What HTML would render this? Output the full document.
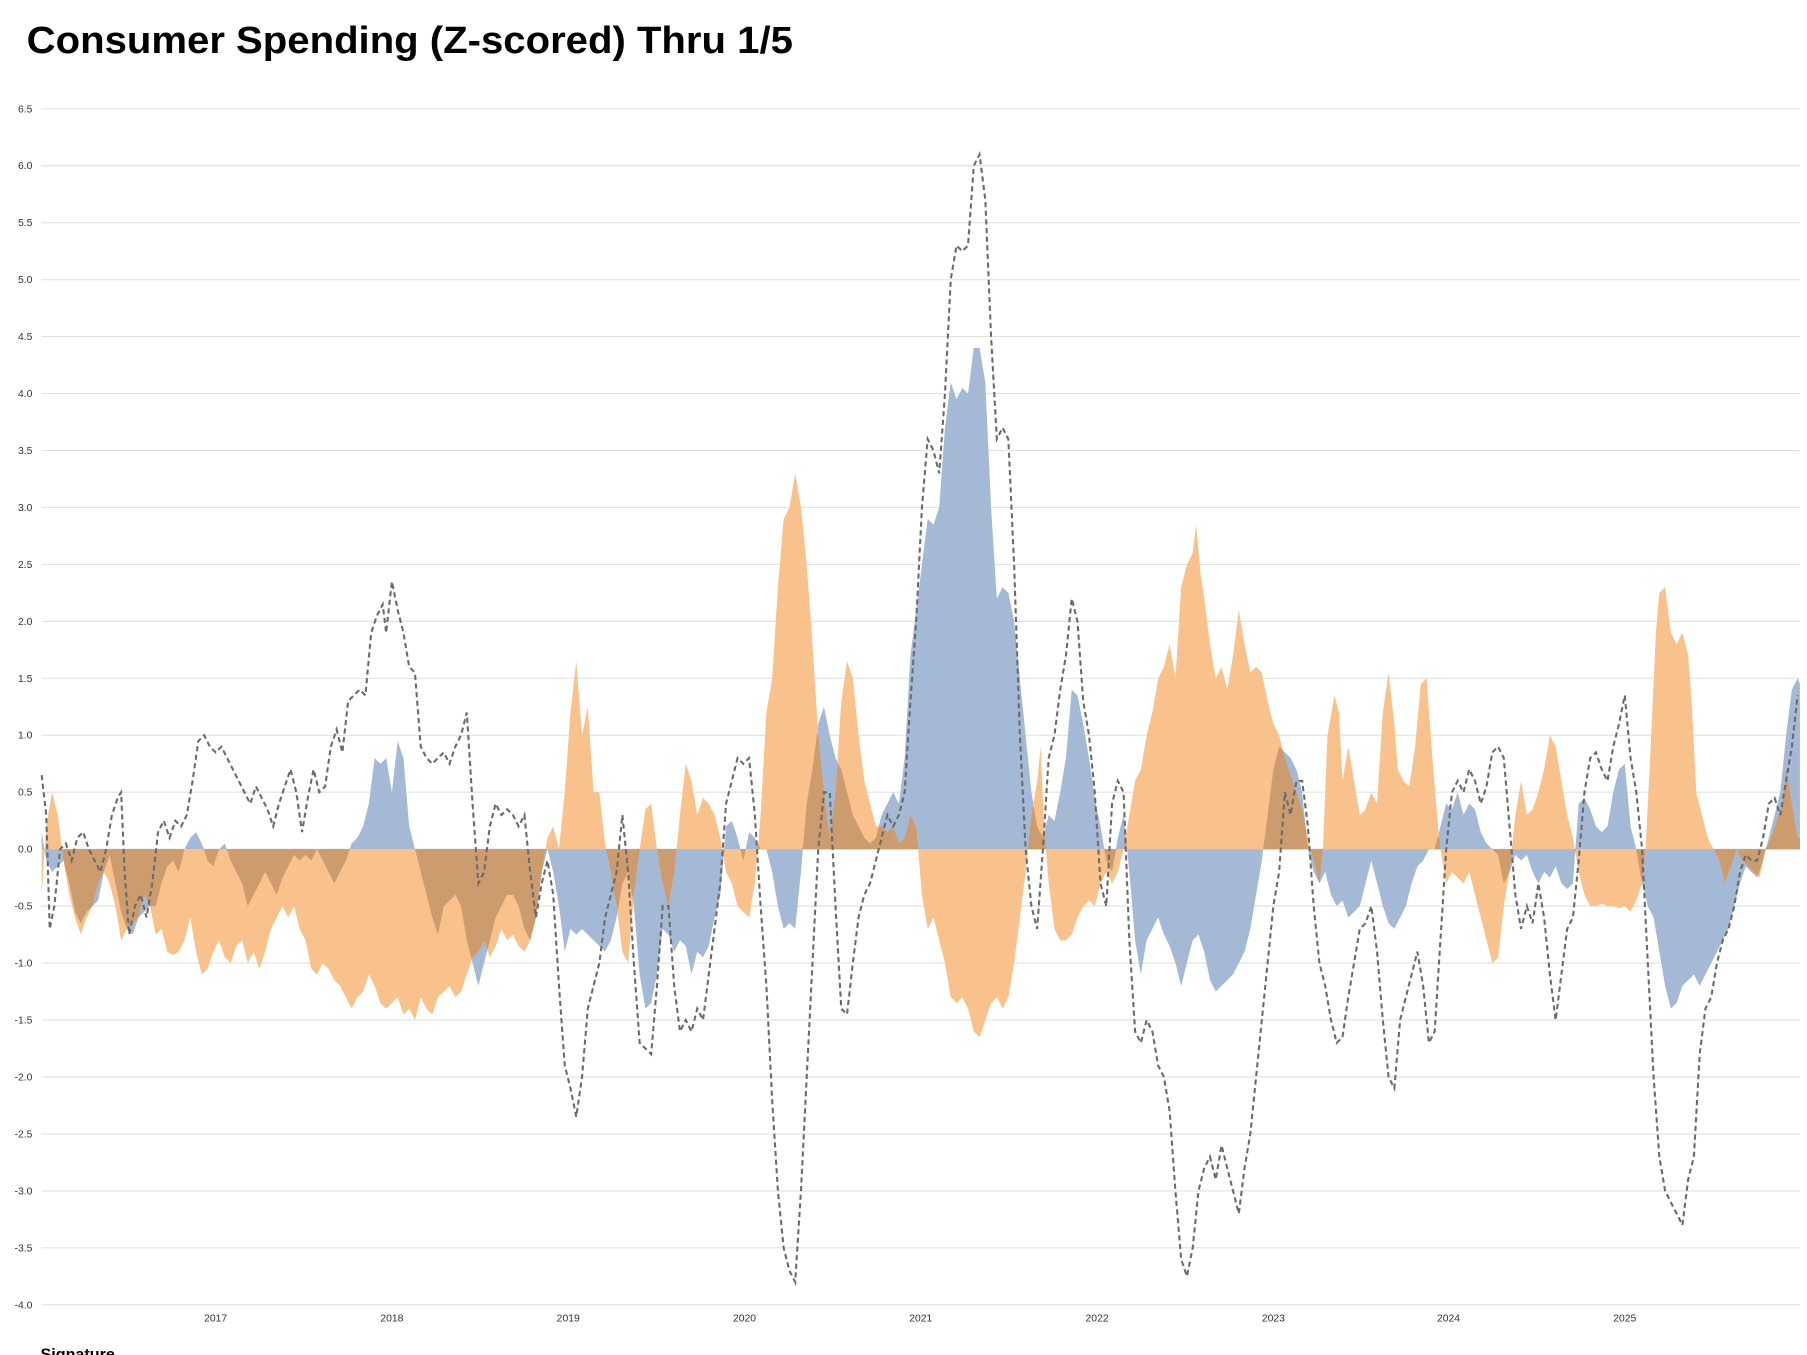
<!DOCTYPE html>
<html><head><meta charset="utf-8"><style>
html,body{margin:0;padding:0;background:#fff;}
svg{display:block;}
</style></head><body>
<svg id="c" width="1807" height="1355" viewBox="0 0 1568 1176" xmlns="http://www.w3.org/2000/svg">
<text x="23" y="46" font-family="Liberation Sans, sans-serif" font-weight="bold" font-size="33" textLength="665" lengthAdjust="spacingAndGlyphs" fill="#000">Consumer Spending (Z-scored) Thru 1/5</text>
<g id="grid"></g>
<g id="areas"></g>
<g id="line"></g>
<g id="xl" font-family="Liberation Sans, sans-serif" font-size="9" fill="#333" text-anchor="middle"></g>
<text x="35" y="1180" font-family="Liberation Sans, sans-serif" font-weight="bold" font-size="14" fill="#000">Signature</text>
</svg>
<script>
var NS="http://www.w3.org/2000/svg";
var Y0=737, U=(1132-94)/10.5, X0=36, X1=1562;
function Y(v){return Y0-v*U;}
function el(t,a,p){var e=document.createElementNS(NS,t);for(var k in a)e.setAttribute(k,a[k]);p.appendChild(e);return e;}
var g=document.getElementById('grid');
for(var i=0;i<=21;i++){var v=6.5-i*0.5;var y=Y(v);
el('line',{x1:36,x2:1562,y1:y,y2:y,stroke:'#e2e2e2','stroke-width':1},g);
var t=el('text',{x:28,y:y+3,'font-family':'Liberation Sans, sans-serif','font-size':'9','fill':'#333','text-anchor':'end'},g);t.textContent=v.toFixed(1);}
var xl=document.getElementById('xl');
var yrs=[[187,'2017'],[340,'2018'],[493,'2019'],[646,'2020'],[799,'2021'],[952,'2022'],[1105,'2023'],[1257,'2024'],[1410,'2025']];
yrs.forEach(function(a){var t=el('text',{x:a[0],y:1147},xl);t.textContent=a[1];});
function P(s){var a=s.split(',').map(function(p){p=p.trim().split(':');return [+p[0],+p[1]];});return a;}
var O=P("36:-0.4,40:0.2,45:0.5,50:0.3,55:-0.1,60:-0.4,65:-0.6,70:-0.75,75:-0.6,80:-0.5,85:-0.3,90:-0.2,95:-0.3,100:-0.5,105:-0.8,110:-0.7,115:-0.65,120:-0.6,125:-0.4,130:-0.5,135:-0.75,140:-0.7,145:-0.9,150:-0.93,155:-0.9,160:-0.8,165:-0.6,170:-0.9,175:-1.1,180:-1.05,185:-0.9,190:-0.8,195:-0.95,200:-1.0,205:-0.85,210:-0.8,215:-1.0,220:-0.9,225:-1.05,230:-0.9,235:-0.7,240:-0.6,245:-0.5,250:-0.6,255:-0.5,260:-0.7,265:-0.8,270:-1.05,275:-1.1,280:-1.0,285:-1.05,290:-1.15,295:-1.2,300:-1.3,305:-1.4,310:-1.3,315:-1.25,320:-1.1,325:-1.2,330:-1.35,335:-1.4,340:-1.35,345:-1.3,350:-1.45,355:-1.4,360:-1.5,365:-1.3,370:-1.4,375:-1.45,380:-1.3,385:-1.25,390:-1.2,395:-1.3,400:-1.25,405:-1.1,410:-0.95,415:-0.9,420:-0.8,425:-0.95,430:-0.85,435:-0.7,440:-0.8,445:-0.75,450:-0.85,455:-0.9,460:-0.8,465:-0.6,470:-0.2,475:0.1,480:0.2,485:0.0,490:0.5,495:1.2,500:1.65,505:1.0,510:1.25,515:0.5,520:0.5,525:0.05,530:-0.2,535:-0.5,540:-0.9,545:-1.0,550:-0.4,555:0.0,560:0.35,565:0.4,570:0.0,575:-0.3,580:-0.5,585:-0.2,590:0.3,595:0.75,600:0.6,605:0.3,610:0.45,615:0.4,620:0.3,625:0.1,630:-0.2,635:-0.3,640:-0.5,645:-0.55,650:-0.6,655:-0.3,660:0.3,665:1.2,670:1.5,675:2.3,680:2.9,685:3.0,690:3.3,695:3.0,700:2.5,705:1.8,710:1.0,715:0.5,720:0.1,725:0.5,730:1.3,735:1.65,740:1.5,745:1.0,750:0.6,755:0.4,760:0.2,765:0.2,770:0.15,775:0.2,780:0.05,785:0.1,790:0.3,795:0.2,800:-0.4,805:-0.7,810:-0.6,815:-0.8,820:-1.0,825:-1.3,830:-1.35,835:-1.3,840:-1.4,845:-1.6,850:-1.65,855:-1.5,860:-1.35,865:-1.3,870:-1.4,875:-1.3,880:-1.0,885:-0.6,890:-0.2,895:0.3,900:0.6,903:0.9,906:0.2,910:-0.3,915:-0.7,920:-0.8,925:-0.8,930:-0.75,935:-0.6,940:-0.5,945:-0.45,950:-0.5,955:-0.3,960:-0.2,965:-0.3,970:-0.2,975:0.0,980:0.3,985:0.6,990:0.7,995:1.0,1000:1.2,1005:1.5,1010:1.6,1015:1.8,1020:1.5,1025:2.3,1030:2.5,1035:2.6,1038:2.85,1042:2.4,1045:2.2,1050:1.8,1055:1.5,1060:1.6,1065:1.4,1070:1.7,1075:2.1,1080:1.8,1085:1.55,1090:1.6,1095:1.55,1100:1.3,1105:1.1,1110:1.0,1115:0.8,1120:0.65,1125:0.5,1130:0.35,1135:0.1,1140:-0.1,1145:-0.3,1148:0.0,1152:1.0,1158:1.35,1162:1.2,1165:0.6,1170:0.9,1175:0.6,1180:0.3,1185:0.35,1190:0.5,1195:0.4,1200:1.2,1205:1.55,1210:1.1,1213:0.7,1218:0.6,1223:0.55,1228:0.9,1233:1.45,1238:1.5,1243:0.8,1248:0.2,1250:0.0,1255:-0.3,1260:-0.2,1265:-0.25,1270:-0.3,1275:-0.2,1280:-0.4,1285:-0.6,1290:-0.8,1295:-1.0,1300:-0.95,1305:-0.5,1310:-0.2,1315:0.3,1320:0.6,1325:0.3,1330:0.35,1335:0.5,1340:0.7,1345:1.0,1350:0.9,1355:0.6,1360:0.3,1365:0.1,1370:-0.2,1375:-0.4,1380:-0.5,1385:-0.5,1390:-0.48,1395:-0.5,1400:-0.5,1405:-0.52,1410:-0.5,1415:-0.55,1420:-0.45,1425:-0.3,1428:0.0,1432:0.8,1437:1.9,1440:2.25,1445:2.3,1450:1.9,1455:1.8,1460:1.9,1465:1.7,1468:1.3,1472:0.5,1477:0.3,1482:0.1,1487:0.0,1492:-0.1,1497:-0.3,1502:-0.15,1507:0.0,1512:-0.1,1517:-0.15,1522:-0.2,1527:-0.25,1532:0.0,1537:0.1,1542:0.25,1547:0.4,1550:0.7,1555:0.4,1560:0.1,1562:0.1");
var B=P("36:0.15,40:-0.1,45:-0.2,50:-0.15,55:-0.1,60:-0.3,65:-0.55,70:-0.65,75:-0.55,80:-0.5,85:-0.45,90:-0.2,95:-0.05,100:-0.3,105:-0.55,110:-0.7,115:-0.75,120:-0.6,125:-0.55,130:-0.5,135:-0.5,140:-0.3,145:-0.15,150:-0.1,155:-0.2,160:0.0,165:0.1,170:0.15,175:0.05,180:-0.1,185:-0.15,190:0.0,195:0.05,200:-0.1,205:-0.2,210:-0.3,215:-0.5,220:-0.4,225:-0.3,230:-0.2,235:-0.3,240:-0.4,245:-0.25,250:-0.15,255:-0.05,260:-0.1,265:-0.05,270:-0.1,275:0.0,280:-0.1,285:-0.2,290:-0.3,295:-0.2,300:-0.1,305:0.05,310:0.1,315:0.2,320:0.4,325:0.8,330:0.75,335:0.8,340:0.5,345:0.95,350:0.8,355:0.2,360:0.0,365:-0.2,370:-0.4,375:-0.6,380:-0.75,385:-0.5,390:-0.45,395:-0.4,400:-0.5,405:-0.8,410:-1.0,415:-1.2,420:-1.0,425:-0.8,430:-0.6,435:-0.5,440:-0.4,445:-0.4,450:-0.5,455:-0.7,460:-0.8,465:-0.6,470:-0.2,475:0.0,480:-0.2,485:-0.5,490:-0.9,495:-0.7,500:-0.75,505:-0.7,510:-0.75,515:-0.8,520:-0.85,525:-0.9,530:-0.8,535:-0.6,540:-0.3,545:-0.2,550:-0.5,555:-1.1,560:-1.4,565:-1.35,570:-1.1,575:-0.7,580:-0.75,585:-0.9,590:-0.8,595:-0.85,600:-1.1,605:-0.9,610:-0.95,615:-0.85,620:-0.6,625:-0.4,630:0.2,635:0.25,640:0.1,645:-0.1,650:0.15,655:0.1,660:0.0,665:0.0,670:-0.2,675:-0.5,680:-0.7,685:-0.65,690:-0.7,695:-0.2,700:0.4,705:0.7,710:1.1,715:1.25,720:1.0,725:0.8,730:0.7,735:0.5,740:0.3,745:0.2,750:0.1,755:0.05,760:0.1,765:0.3,770:0.4,775:0.5,780:0.4,785:0.8,790:1.7,795:2.1,800:2.5,805:2.9,810:2.85,815:3.0,820:3.7,825:4.1,830:3.95,835:4.05,840:4.0,845:4.4,850:4.4,855:4.1,860:3.0,865:2.2,870:2.3,875:2.25,880:2.0,885:1.5,890:1.0,895:0.5,900:0.2,905:0.1,910:0.3,915:0.25,920:0.5,925:0.8,930:1.4,935:1.35,940:1.1,945:0.8,950:0.45,955:0.2,960:-0.1,965:-0.2,970:0.1,975:0.3,980:-0.2,985:-0.8,990:-1.1,995:-0.8,1000:-0.7,1005:-0.6,1010:-0.75,1015:-0.85,1020:-1.0,1025:-1.2,1030:-1.0,1035:-0.8,1040:-0.75,1045:-0.9,1050:-1.15,1055:-1.25,1060:-1.2,1065:-1.15,1070:-1.1,1075:-1.0,1080:-0.9,1085:-0.7,1090:-0.4,1095:-0.1,1100:0.3,1105:0.7,1110:0.9,1115:0.85,1120:0.8,1125:0.7,1130:0.5,1135:0.0,1140:-0.2,1145:-0.3,1150:-0.2,1155:-0.4,1160:-0.5,1165:-0.45,1170:-0.6,1175:-0.55,1180:-0.5,1185:-0.3,1190:-0.1,1195:-0.3,1200:-0.5,1205:-0.65,1210:-0.7,1215:-0.6,1220:-0.5,1225:-0.3,1230:-0.15,1235:-0.1,1240:0.0,1245:0.0,1250:0.2,1255:0.4,1260:0.35,1265:0.5,1270:0.3,1275:0.4,1280:0.35,1285:0.15,1290:0.05,1295:0.0,1300:-0.05,1305:-0.3,1310:-0.2,1315:-0.05,1320:-0.1,1325:-0.05,1330:-0.2,1335:-0.3,1340:-0.2,1345:-0.25,1350:-0.15,1355:-0.3,1360:-0.35,1365:-0.3,1370:0.4,1375:0.45,1380:0.35,1385:0.2,1390:0.15,1395:0.2,1400:0.5,1405:0.7,1410:0.75,1415:0.2,1420:0.0,1425:-0.3,1430:-0.5,1435:-0.6,1440:-0.9,1445:-1.2,1450:-1.4,1455:-1.35,1460:-1.2,1465:-1.15,1470:-1.1,1475:-1.2,1480:-1.1,1485:-1.0,1490:-0.9,1495:-0.8,1500:-0.7,1505:-0.5,1510:-0.3,1515:-0.15,1520:-0.2,1525:-0.25,1530:-0.1,1535:0.1,1540:0.3,1545:0.5,1550:1.0,1555:1.4,1560:1.5,1562:1.45");
var L=P("36:0.65,40:0.3,43:-0.7,47:-0.5,52:0.0,57:0.05,62:-0.1,67:0.1,72:0.15,77:0.0,82:-0.1,87:-0.2,92:0.0,97:0.3,102:0.45,105:0.5,108:-0.2,112:-0.75,117:-0.5,122:-0.4,127:-0.6,132:-0.3,137:0.15,142:0.25,147:0.1,152:0.25,157:0.2,162:0.3,167:0.6,172:0.95,177:1.0,182:0.9,187:0.85,192:0.9,197:0.8,202:0.7,207:0.6,212:0.5,217:0.4,222:0.55,227:0.45,232:0.35,237:0.2,242:0.4,247:0.55,252:0.7,257:0.5,262:0.15,267:0.45,272:0.7,277:0.5,282:0.55,287:0.9,292:1.05,297:0.85,302:1.3,307:1.35,312:1.4,317:1.35,322:1.9,327:2.05,332:2.15,335:1.9,340:2.35,345:2.1,350:1.9,355:1.6,360:1.55,365:0.9,370:0.8,375:0.75,380:0.8,385:0.85,390:0.75,395:0.9,400:1.0,405:1.2,410:0.4,415:-0.3,420:-0.2,425:0.2,430:0.4,435:0.3,440:0.35,445:0.3,450:0.2,455:0.3,460:-0.2,465:-0.6,470:-0.3,475:-0.1,480:-0.4,485:-1.2,490:-1.9,495:-2.1,500:-2.35,505:-2.0,510:-1.4,515:-1.2,520:-1.0,525:-0.6,530:-0.4,535:-0.2,540:0.3,545:-0.2,550:-1.0,555:-1.7,560:-1.75,565:-1.8,570:-1.2,575:-0.5,580:-0.5,585:-1.2,590:-1.6,595:-1.5,600:-1.6,605:-1.4,610:-1.5,615:-1.1,620:-0.7,625:-0.3,630:0.4,635:0.6,640:0.8,645:0.75,650:0.8,655:0.3,660:-0.5,665:-1.2,670:-2.2,675:-3.0,680:-3.5,685:-3.7,690:-3.8,695:-3.0,700:-2.0,705:-1.0,710:0.0,715:0.5,720:0.5,725:-0.5,730:-1.4,735:-1.45,740:-1.0,745:-0.6,750:-0.4,755:-0.3,760:-0.1,765:0.1,770:0.3,775:0.2,780:0.3,785:0.5,790:1.3,795:2.0,800:3.0,805:3.6,810:3.5,815:3.3,820:4.0,825:5.0,830:5.3,835:5.25,840:5.3,845:6.0,850:6.1,855:5.7,860:4.5,865:3.6,870:3.7,875:3.6,880:2.5,885:1.0,890:0.0,895:-0.5,900:-0.7,905:0.0,910:0.8,915:1.0,920:1.4,925:1.7,930:2.2,935:2.0,940:1.3,945:1.0,950:0.5,955:-0.3,960:-0.5,965:0.4,970:0.6,975:0.5,980:-0.8,985:-1.6,990:-1.7,995:-1.5,1000:-1.6,1005:-1.9,1010:-2.0,1015:-2.3,1020:-3.0,1025:-3.6,1030:-3.75,1035:-3.5,1040:-3.0,1045:-2.8,1050:-2.7,1055:-2.9,1060:-2.6,1065:-2.8,1070:-3.0,1075:-3.2,1080:-2.8,1085:-2.5,1090:-2.0,1095:-1.5,1100:-1.0,1105:-0.5,1110:-0.2,1115:0.5,1120:0.3,1125:0.6,1130:0.6,1135:0.2,1140:-0.5,1145:-1.0,1150:-1.2,1155:-1.5,1160:-1.7,1165:-1.65,1170:-1.3,1175:-1.0,1180:-0.7,1185:-0.65,1190:-0.5,1195:-0.9,1200:-1.5,1205:-2.0,1210:-2.1,1215:-1.5,1220:-1.3,1225:-1.1,1230:-0.9,1235:-1.2,1240:-1.7,1245:-1.6,1250:-0.8,1255:0.0,1260:0.5,1265:0.6,1270:0.5,1275:0.7,1280:0.6,1285:0.4,1290:0.55,1295:0.85,1300:0.9,1305:0.8,1310:0.2,1315:-0.4,1320:-0.7,1325:-0.5,1330:-0.65,1335:-0.3,1340:-0.6,1345:-1.1,1350:-1.5,1355:-1.1,1360:-0.7,1365:-0.6,1370:-0.1,1375:0.5,1380:0.8,1385:0.85,1390:0.7,1395:0.6,1400:0.9,1405:1.1,1410:1.35,1415:0.8,1420:0.5,1425:0.0,1430:-1.0,1435:-2.0,1440:-2.7,1445:-3.0,1450:-3.1,1455:-3.2,1460:-3.3,1465:-2.9,1470:-2.7,1475:-1.8,1480:-1.4,1485:-1.3,1490:-1.0,1495:-0.8,1500:-0.7,1505:-0.5,1510:-0.2,1515:-0.05,1520:-0.1,1525:-0.1,1530:0.1,1535:0.4,1540:0.45,1545:0.3,1550:0.6,1555:0.9,1560:1.35");
function interp(a,x){for(var i=1;i<a.length;i++){if(x<=a[i][0]){var t=(x-a[i-1][0])/(a[i][0]-a[i-1][0]);return a[i-1][1]+t*(a[i][1]-a[i-1][1]);}}return a[a.length-1][1];}
function area(vals){var d='M'+X0+','+Y0;for(var i=0;i<vals.length;i++){d+='L'+(X0+i)+','+Y(vals[i]).toFixed(1);}d+='L'+X1+','+Y0+'Z';return d;}
var ov=[],bv=[],mv=[];
for(var x=X0;x<=X1;x++){var o=interp(O,x),b=interp(B,x);ov.push(o);bv.push(b);
var m=0;if(o>0&&b>0)m=Math.min(o,b);else if(o<0&&b<0)m=Math.max(o,b);mv.push(m);}
var A=document.getElementById('areas');
el('path',{d:area(bv),fill:'#a4b9d5'},A);
el('path',{d:area(ov),fill:'#f9c18b'},A);
el('path',{d:area(mv),fill:'#cc9b6e'},A);
var d='';L.forEach(function(p,i){d+=(i?'L':'M')+p[0]+','+Y(p[1]).toFixed(1);});
el('path',{d:d,fill:'none',stroke:'#6a6a6a','stroke-width':1.8,'stroke-dasharray':'4.5,3'},document.getElementById('line'));
</script>
</body></html>
